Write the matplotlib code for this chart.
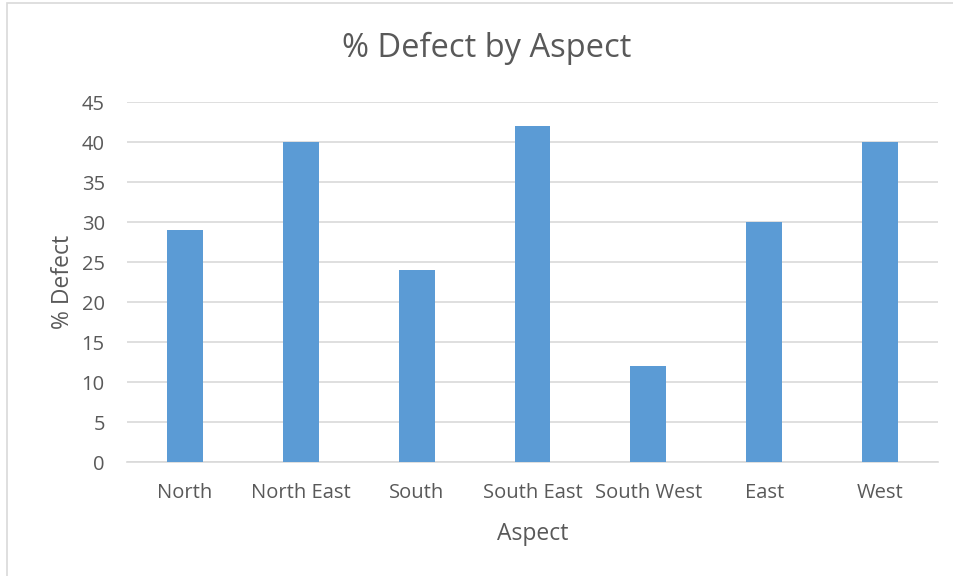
import matplotlib
matplotlib.use("Agg")
import matplotlib.pyplot as plt
from matplotlib.patches import Rectangle

# % defect per aspect
aspects = ["North", "North East", "South", "South East", "South West", "East", "West"]
defect_pct = [29, 40, 24, 42, 12, 30, 40]
y_ticks = [0, 5, 10, 15, 20, 25, 30, 35, 40, 45]

text_col = "#595959"
grid_col = "#D9D9D9"
bar_col = "#5B9BD5"

plt.rcParams["font.family"] = ["Open Sans", "DejaVu Sans"]

fig = plt.figure(figsize=(9.54, 5.76), dpi=100)
ax = fig.add_axes([127 / 954, 1 - 462 / 576, 811 / 954, 360 / 576])

# light chart-area border
fig.patches.append(Rectangle((7 / 954, -0.1), 1.2, 1 - 3 / 576 + 0.1,
                             transform=fig.transFigure, fill=False,
                             edgecolor=grid_col, linewidth=1.2))

x = range(len(aspects))
ax.bar(x, defect_pct, width=0.31, color=bar_col, zorder=3)

ax.set_xlim(-0.5, len(aspects) - 0.5)
ax.set_ylim(0, 45)
ax.set_yticks(y_ticks)
ax.set_xticks(list(x))
ax.set_xticklabels(aspects)
ax.yaxis.grid(True, color=grid_col, linewidth=1.2, zorder=0)
ax.set_axisbelow(True)

for s in ["top", "right", "left"]:
    ax.spines[s].set_visible(False)
ax.spines["bottom"].set_color(grid_col)
ax.spines["bottom"].set_linewidth(1.2)

ax.tick_params(axis="both", length=0, labelsize=14.5, colors=text_col)
ax.tick_params(axis="x", pad=15)
ax.tick_params(axis="y", pad=16)

ax.set_xlabel("Aspect", fontsize=16.5, color=text_col, labelpad=14)
ax.set_ylabel("% Defect", fontsize=16.5, color=text_col, labelpad=5)
fig.text(487 / 954, 1 - 48 / 576, "% Defect by Aspect", fontsize=23.5,
         color=text_col, ha="center", va="center")

fig.savefig("out.png", dpi=100)
